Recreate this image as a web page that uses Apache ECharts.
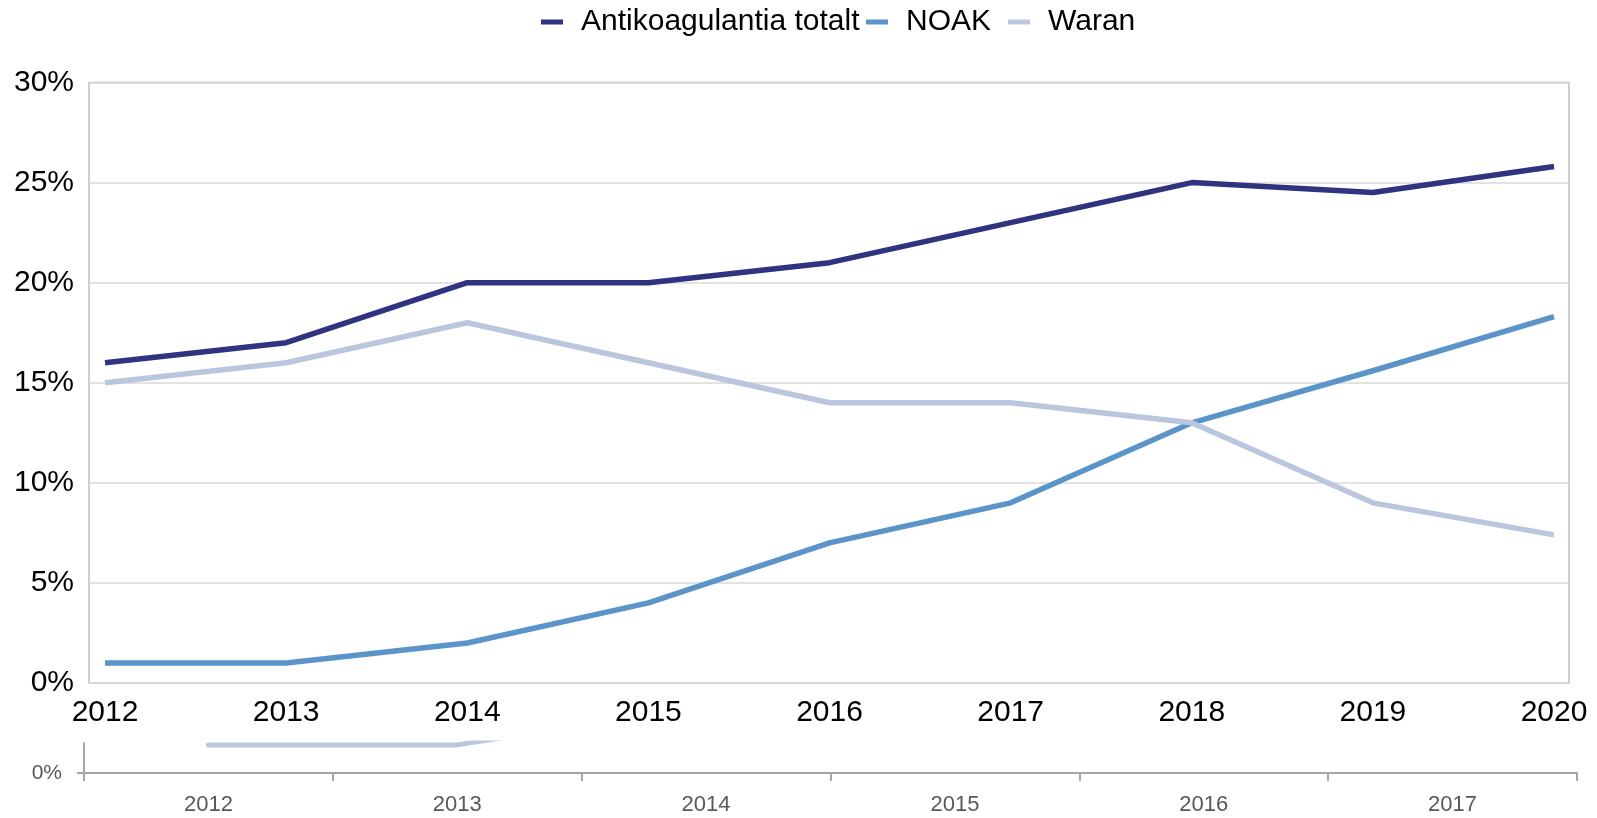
<!DOCTYPE html>
<html>
<head>
<meta charset="utf-8">
<title>Antikoagulantia</title>
<script src="https://cdn.jsdelivr.net/npm/echarts@6/dist/echarts.min.js"></script>
<style>
  html, body { margin: 0; padding: 0; background: #fff; }
  #chart { width: 1597px; height: 818px; }
</style>
</head>
<body>
<div id="chart"></div>
<script>
// kategorier (år)
var years = ['2012', '2013', '2014', '2015', '2016', '2017', '2018', '2019', '2020'];
// andel i procent
var totalt = [16, 17, 20, 20, 21, 23, 25, 24.5, 25.8];
var noak = [1, 1, 2, 4, 7, 9, 13, 15.6, 18.3];
var waran = [15, 16, 18, 16, 14, 14, 13, 9, 7.4];

// det avklippta diagrammet längst ner
var smallYears = ['2012', '2013', '2014', '2015', '2016', '2017'];
var smallWaran = [15, 15, 36, null, null, null];

var colTotalt = '#2f3380';
var colNoak = '#5b94c9';
var colWaran = '#bac6de';
var font = 'Liberation Sans, Arial, sans-serif';

function legendItem(name, left) {
  return {
    data: [name],
    left: left,
    top: 7,
    padding: 0,
    icon: 'rect',
    itemWidth: 22,
    itemHeight: 5,
    textStyle: { fontSize: 30, color: '#000', fontFamily: font, padding: [0, 0, 0, 13] }
  };
}

var chart = echarts.init(document.getElementById('chart'));
chart.setOption({
  animation: false,
  legend: [
    legendItem('Antikoagulantia totalt', 541),
    legendItem('NOAK', 866),
    legendItem('Waran', 1008)
  ],
  grid: [
    // ram + stödlinjer
    { left: 89, right: 28, top: 82.5, bottom: 135, show: true, borderColor: '#bfbfbf', borderWidth: 1.5 },
    // dataområde
    { left: 105, right: 43, top: 82.5, bottom: 135 },
    // nedre diagram
    { left: 84, right: 20, top: 743, bottom: 45 }
  ],
  xAxis: [
    { gridIndex: 0, type: 'value', show: false, min: 0, max: 1 },
    {
      gridIndex: 1, type: 'category', data: years, boundaryGap: false,
      axisLine: { show: false }, axisTick: { show: false },
      axisLabel: { fontSize: 30, color: '#000', fontFamily: font, margin: 15 }
    },
    {
      gridIndex: 2, type: 'category', data: smallYears, boundaryGap: true,
      axisLine: { lineStyle: { color: '#a6a6a6', width: 2 } },
      axisTick: { show: true, length: 8, lineStyle: { color: '#a6a6a6', width: 2 } },
      axisLabel: { fontSize: 22, color: '#595959', fontFamily: font, margin: 21 }
    }
  ],
  yAxis: [
    {
      gridIndex: 0, type: 'value', min: 0, max: 30, interval: 5,
      axisLine: { show: false }, axisTick: { show: false },
      axisLabel: { fontSize: 30, color: '#000', fontFamily: font, margin: 15, formatter: '{value}%' },
      splitLine: { lineStyle: { color: '#d9d9d9', width: 1.5 } }
    },
    { gridIndex: 1, type: 'value', min: 0, max: 30, show: false, splitLine: { show: false } },
    {
      gridIndex: 2, type: 'value', min: 0, max: 16,
      axisLine: { show: true, lineStyle: { color: '#a6a6a6', width: 2 } },
      axisTick: { show: true, length: 7, customValues: [0], lineStyle: { color: '#a6a6a6', width: 2 } },
      axisLabel: { fontSize: 21, color: '#595959', fontFamily: font, margin: 22, customValues: [0], formatter: '{value}%' },
      splitLine: { show: false }
    }
  ],
  series: [
    {
      name: 'Antikoagulantia totalt', type: 'line', xAxisIndex: 1, yAxisIndex: 1,
      data: totalt, symbol: 'none', color: colTotalt,
      lineStyle: { width: 5.5, color: colTotalt, join: 'round' }
    },
    {
      name: 'NOAK', type: 'line', xAxisIndex: 1, yAxisIndex: 1,
      data: noak, symbol: 'none', color: colNoak,
      lineStyle: { width: 5.5, color: colNoak, join: 'round' }
    },
    {
      name: 'Waran', type: 'line', xAxisIndex: 1, yAxisIndex: 1,
      data: waran, symbol: 'none', color: colWaran,
      lineStyle: { width: 5.5, color: colWaran, join: 'round' }
    },
    {
      name: 'Waran (nedre)', type: 'line', xAxisIndex: 2, yAxisIndex: 2,
      data: smallWaran, symbol: 'none', color: colWaran, clip: true,
      lineStyle: { width: 5, color: colWaran, cap: 'round', join: 'round' }
    }
  ]
});
</script>
</body>
</html>
